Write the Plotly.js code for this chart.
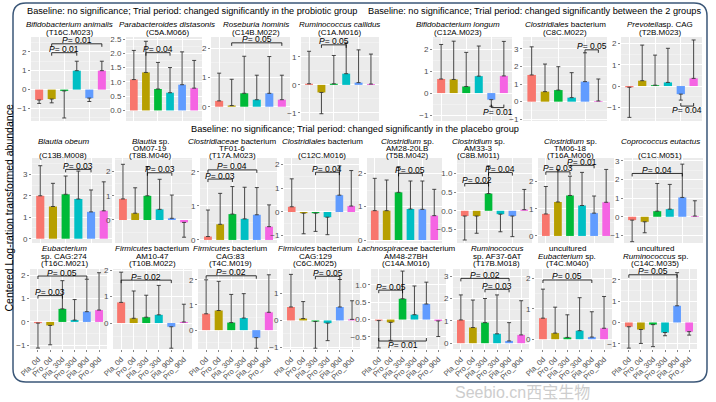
<!DOCTYPE html>
<html><head><meta charset="utf-8">
<script src="https://cdn.plot.ly/plotly-3.0.1.min.js"></script>
<style>html,body{margin:0;padding:0;background:#fff;}#chart{width:716px;height:402px;}</style>
</head><body><div id="chart"></div>
<script>
// ---------------- DATA ----------------
const categories = ["Pla_0d","Pro_0d","Pla_30d","Pro_30d","Pla_90d","Pro_90d"];

const boxTitles = [
  "Baseline: no significance; Trial period: changed significantly in the probiotic group",
  "Baseline: no significance; Trial period: changed significantly between the 2 groups",
  "Baseline: no significance; Trial period: changed significantly in the placebo group"
];
const yAxisTitle = "Centered Log-ration transformed abundance";

// Row 1 — probiotic group
const mean_T16C_M023 = [-0.55,-0.5,-0.07,1.0,-0.45,1.0];
const tip_T16C_M023  = [-0.73,-0.7,-1.5,1.5,-0.63,1.5];
const sig_T16C_M023  = [[1,3,"0.01"],[1,5,"0.01"]];
const mean_C5A_M066 = [1.08,1.33,0.75,0.62,0.9,0.78];
const tip_C5A_M066  = [2.1,2.42,1.68,1.5,2.05,1.75];
const sig_C5A_M066  = [[1,3,"0.04"]];
const mean_C14B_M022 = [0.2,0.04,0.46,0.24,0.46,0.24];
const tip_C14B_M022  = [1.15,0.94,1.73,1.08,1.72,1.08];
const sig_C14B_M022  = [[1,5,"0.05"]];
const mean_C1A_M016 = [0.04,-0.27,0.04,0.4,0.08,0.03];
const tip_C1A_M016  = [1.2,-1.03,1.05,1.5,1.25,1.1];
const sig_C1A_M016  = [[1,3,"0.05"]];
// Row 1 — between the 2 groups
const mean_C12A_M023 = [0.64,0.62,0.3,0.77,-0.3,0.78];
const tip_C12A_M023  = [2.21,2.36,1.85,2.14,-0.6,2.35];
const sig_C12A_M023  = [[4,5,"0.01"]];
const mean_C8C_M022 = [1.52,0.57,0.66,0.23,1.14,0.04];
const tip_C8C_M022  = [3.12,2.14,1.99,1.65,2.78,1.29];
const sig_C8C_M022  = [[4,5,"0.05"]];
const mean_T2B_M023 = [-0.06,0.25,0.04,0.17,-0.38,0.36];
const tip_T2B_M023  = [-1.47,1.92,1.45,1.77,-0.66,2.16];
const sig_T2B_M023  = [[4,5,"0.04"]];
// Rows 2-3 — placebo group
const mean_C13B_M008 = [2.0,1.5,2.07,1.85,1.25,1.3];
const tip_C13B_M008  = [3.4,2.58,2.92,3.15,2.27,2.65];
const sig_C13B_M008  = [[2,4,"0.03"]];
const mean_T8B_M046 = [0.87,0.28,1.0,0.44,0.07,-0.1];
const tip_T8B_M046  = [2.3,1.33,2.2,1.68,1.03,-0.71];
const sig_T8B_M046  = [[2,4,"0.03"]];
const mean_T17A_M023 = [0.1,0.46,0.76,0.62,0.74,0.39];
const tip_T17A_M023  = [0.88,1.37,1.57,1.55,1.54,1.03];
const sig_T17A_M023  = [[0,4,"0.04"],[0,2,"0.03"]];
const mean_C12C_M016 = [0.22,-0.05,-0.05,-0.22,0.71,0.25];
const tip_C12C_M016  = [1.4,-0.92,-0.82,-0.96,1.95,1.75];
const sig_C12C_M016  = [[2,4,"0.04"]];
const mean_T5B_M042 = [0.88,0.88,1.43,0.93,0.92,0.73];
const tip_T5B_M042  = [1.85,1.8,2.2,1.77,1.77,1.52];
const sig_T5B_M042  = [[2,4,"0.05"]];
const mean_C8B_M011 = [-0.14,-0.14,0.46,-0.09,-0.14,0.03];
const tip_C8B_M011  = [-0.78,-0.6,1.2,-0.56,-0.69,0.57];
const sig_C8B_M011  = [[0,2,"0.02"],[2,4,"0.04"]];
const mean_T16A_M006 = [0.81,1.25,1.49,1.12,0.84,1.24];
const tip_T16A_M006  = [1.82,2.45,2.2,2.34,1.47,2.45];
const sig_T16A_M006  = [[0,2,"0.03"],[2,4,"0.01"]];
const mean_C1C_M051 = [-0.18,-0.27,0.3,0.41,1.04,0.04];
const tip_C1C_M051  = [-1.34,-0.86,1.79,1.74,2.83,0.86];
const sig_C1C_M051  = [[0,4,"0.04"]];
const mean_T16C_M021 = [-0.05,-0.15,0.56,0.08,0.44,0.51];
const tip_T16C_M021  = [-1.12,-0.98,1.77,0.96,1.83,2.11];
const sig_T16C_M021  = [[0,4,"0.05"],[0,2,"0.03"]];
const mean_T10B_M022 = [0.78,0.18,0.22,0.31,-0.14,0.04];
const tip_T10B_M022  = [1.92,1.21,1.05,1.42,-0.95,0.71];
const sig_T10B_M022  = [[0,4,"0.02"]];
const mean_T4C_M019 = [0.65,0.78,0.3,0.48,-0.3,0.71];
const tip_T4C_M019  = [2.0,1.94,1.42,1.45,-0.72,2.2];
const sig_T4C_M019  = [[0,4,"0.02"]];
const mean_C6C_M025 = [0.5,0.07,-0.04,-0.1,0.5,0.04];
const tip_C6C_M025  = [1.71,0.7,-1.03,-0.75,1.52,0.73];
const sig_C6C_M025  = [[2,4,"0.05"]];
const mean_C14A_M016 = [-0.03,-0.08,0.6,0.14,0.45,-0.04];
const tip_C14A_M016  = [-0.82,-0.6,1.4,0.97,1.08,-0.49];
const sig_C14A_M016  = [[0,2,"0.05"],[0,4,"0.01"]];
const mean_T17B_M018 = [1.04,0.7,0.92,0.42,0.1,0.37];
const tip_T17B_M018  = [2.16,1.93,2.0,2.16,0.92,1.9];
const sig_T17B_M018  = [[0,4,"0.02"],[2,4,"0.03"]];
const mean_T4C_M040 = [0.69,0.2,0.06,0.28,0.07,0.36];
const tip_T4C_M040  = [1.64,1.05,0.8,1.36,0.9,1.4];
const sig_T4C_M040  = [[0,4,"0.05"]];
const mean_C14C_M035 = [-0.2,-0.33,-0.1,-0.47,0.78,-0.43];
const tip_C14C_M035  = [-1.2,-0.98,-1.13,-0.62,2.33,-0.59];
const sig_C14C_M035  = [[0,4,"0.05"]];

const titles = [
  ["<i>Bifidobacterium animalis</i>","(T16C.M023)"],
  ["<i>Parabacteroides distasonis</i>","(C5A.M066)"],
  ["<i>Roseburia hominis</i>","(C14B.M022)"],
  ["<i>Ruminococcus callidus</i>","(C1A.M016)"],
  ["<i>Bifidobacterium longum</i>","(C12A.M023)"],
  ["<i>Clostridiales</i> bacterium","(C8C.M022)"],
  ["<i>Prevotella</i>sp. CAG","(T2B.M023)"],
  ["<i>Blautia obeum</i>","","(C13B.M008)"],
  ["<i>Blautia</i> sp.","OM07-19","(T8B.M046)"],
  ["<i>Clostridiaceae</i> bacterium","TF01-6","(T17A.M023)"],
  ["<i>Clostridiales</i> bacterium","","(C12C.M016)"],
  ["<i>Clostridium</i> sp.","AM28-20LB","(T5B.M042)"],
  ["<i>Clostridium</i> sp.","AM33-3","(C8B.M011)"],
  ["<i>Clostridium</i> sp.","TM06-18","(T16A.M006)"],
  ["<i>Coprococcus eutactus</i>","","(C1C.M051)"],
  ["<i>Eubacterium</i>","sp. CAG:274","(T16C.M021)"],
  ["<i>Firmicutes</i> bacterium","AM10-47","(T10B.M022)"],
  ["<i>Firmicutes</i> bacterium","CAG:83","(T4C.M019)"],
  ["<i>Firmicutes</i> bacterium","CAG:129","(C6C.M025)"],
  ["<i>Lachnospiraceae</i> bacterium","AM48-27BH","(C14A.M016)"],
  ["<i>Ruminococcus</i>","sp. AF37-6AT","(T17B.M018)"],
  ["uncultured","<i>Eubacterium</i> sp.","(T4C.M040)"],
  ["uncultured","<i>Ruminococcus</i> sp.","(C14C.M035)"]
];
const watermark = "Seebio.cn西宝生物";

// ---------------- LAYOUT / STYLE ----------------
const COLORS = ["#F8766D","#B79F00","#00BA38","#00BFC4","#619CFF","#F564E3"];
const FONT = '"Liberation Sans", Arial, "Noto Sans CJK SC", sans-serif';
const W = 716, H = 402;
const ROW_Y = [[37,121],[158,243],[269,349]];
const TITLE_Y = [[24.3,32.7],[141.6,148.6,155.6],[248.6,256,263.4]];

const panels = [
  {m:mean_T16C_M023,t:tip_T16C_M023,s:sig_T16C_M023,row:0,dom:[31,110],yr:[-1.66,2.78],dt:1,by:[1.95,2.42],tx:69},
  {m:mean_C5A_M066,t:tip_C5A_M066,s:sig_C5A_M066,row:0,dom:[126,202],yr:[-0.37,2.57],dt:0.5,fmt:".1f",by:[2.02],tx:167},
  {m:mean_C14B_M022,t:tip_C14B_M022,s:sig_C14B_M022,row:0,dom:[211,290],yr:[-0.49,2.39],dt:1,by:[2.19],tx:256},
  {m:mean_C1A_M016,t:tip_C1A_M016,s:sig_C1A_M016,row:0,dom:[301,379],yr:[-1.29,1.71],dt:1,by:[1.43],tx:339},
  {m:mean_C12A_M023,t:tip_C12A_M023,s:sig_C12A_M023,row:0,dom:[433,512],yr:[-1.27,2.55],dt:1,by:[-0.66],tx:458},
  {m:mean_C8C_M022,t:tip_C8C_M022,s:sig_C8C_M022,row:0,dom:[523,607],yr:[-1.1,3.68],dt:1,by:[2.95],tx:565},
  {m:mean_T2B_M023,t:tip_T2B_M023,s:sig_T2B_M023,row:0,dom:[621,702],yr:[-1.64,2.3],dt:1,by:[-0.94],tx:660},
  {m:mean_C13B_M008,t:tip_C13B_M008,s:sig_C13B_M008,row:1,dom:[32,112],yr:[-0.2,3.76],dt:1,by:[3.23],tx:63},
  {m:mean_T8B_M046,t:tip_T8B_M046,s:sig_T8B_M046,row:1,dom:[115,192],yr:[-0.95,2.56],dt:1,by:[1.95],tx:150},
  {m:mean_T17A_M023,t:tip_T17A_M023,s:sig_T17A_M023,row:1,dom:[200,277],yr:[-0.09,2.41],dt:1,by:[2.06,1.79],tx:232},
  {m:mean_C12C_M016,t:tip_C12C_M016,s:sig_C12C_M016,row:1,dom:[284,359],yr:[-1.31,2.28],dt:1,by:[1.68],tx:322},
  {m:mean_T5B_M042,t:tip_T5B_M042,s:sig_T5B_M042,row:1,dom:[367,442],yr:[-0.09,2.46],dt:1,by:[2.0],tx:407},
  {m:mean_C8B_M011,t:tip_C8B_M011,s:sig_C8B_M011,row:1,dom:[457,532],yr:[-0.86,1.41],dt:0.5,fmt:".1f",by:[0.73,1.02],tx:478},
  {m:mean_T16A_M006,t:tip_T16A_M006,s:sig_T16A_M006,row:1,dom:[538,614],yr:[-0.26,2.87],dt:1,by:[2.36,2.6],tx:570},
  {m:mean_C1C_M051,t:tip_C1C_M051,s:sig_C1C_M051,row:1,dom:[624,703],yr:[-1.41,3.16],dt:1,by:[2.33],tx:660},
  {m:mean_T16C_M021,t:tip_T16C_M021,s:sig_T16C_M021,row:2,dom:[30,107],yr:[-1.16,2.27],dt:1,by:[1.97,1.13],tx:64},
  {m:mean_T10B_M022,t:tip_T10B_M022,s:sig_T10B_M022,row:2,dom:[113,192],yr:[-0.98,2.04],dt:1,by:[1.62],tx:152},
  {m:mean_T4C_M019,t:tip_T4C_M019,s:sig_T4C_M019,row:2,dom:[198,277],yr:[-0.75,2.43],dt:1,by:[2.16],tx:230},
  {m:mean_C6C_M025,t:tip_C6C_M025,s:sig_C6C_M025,row:2,dom:[283,360],yr:[-1.06,1.91],dt:1,by:[1.64],tx:315},
  {m:mean_C14A_M016,t:tip_C14A_M016,s:sig_C14A_M016,row:2,dom:[371,446],yr:[-0.85,1.46],dt:0.5,fmt:".1f",by:[0.85,-0.62],tx:406},
  {m:mean_T17B_M018,t:tip_T17B_M018,s:sig_T17B_M018,row:2,dom:[453,529],yr:[-0.26,3.32],dt:1,by:[2.9,2.41],tx:497},
  {m:mean_T4C_M040,t:tip_T4C_M040,s:sig_T4C_M040,row:2,dom:[535,612],yr:[-0.32,2.3],dt:1,by:[1.94],tx:567},
  {m:mean_C14C_M035,t:tip_C14C_M035,s:sig_C14C_M035,row:2,dom:[621,697],yr:[-1.24,2.5],dt:1,by:[2.23],tx:655}
];

const px = x => x / W, py = y => 1 - y / H;
const traces = [], shapes = [], annotations = [];
const layout = {
  width: W, height: H, margin: {l:0,r:0,t:0,b:0},
  paper_bgcolor: "#ffffff", plot_bgcolor: "#EBEBEB",
  showlegend: false, font: {family: FONT, color: "#000"},
  hovermode: false
};

panels.forEach((p, i) => {
  const n = i + 1;
  const xa = n === 1 ? "x" : "x" + n, ya = n === 1 ? "y" : "y" + n;
  const xk = n === 1 ? "xaxis" : "xaxis" + n, yk = n === 1 ? "yaxis" : "yaxis" + n;
  const ry = ROW_Y[p.row];
  const lastRow = p.row === 2;
  layout[xk] = {
    domain: [px(p.dom[0]), px(p.dom[1])], anchor: ya, type: "category",
    categoryorder: "array", categoryarray: categories, range: [-0.65, 5.65],
    showgrid: true, gridcolor: "#ffffff", gridwidth: 1, zeroline: false, showline: false,
    ticks: lastRow ? "outside" : "", ticklen: 2, tickcolor: "#333", tickwidth: 0.6,
    showticklabels: lastRow, tickangle: -45,
    tickfont: {size: 7.6, color: "#4d4d4d", family: FONT}, fixedrange: true
  };
  layout[yk] = {
    domain: [py(ry[1]), py(ry[0])], anchor: xa, range: p.yr,
    tickmode: "linear", tick0: 0, dtick: p.dt, tickformat: p.fmt || "d",
    showgrid: true, gridcolor: "#ffffff", gridwidth: 1,
    minor: {showgrid: true, gridcolor: "#f7f7f7", gridwidth: 0.5, dtick: p.dt / 2, tick0: 0},
    zeroline: false, showline: false, ticks: "outside", ticklen: 2,
    tickcolor: "#333", tickwidth: 0.6,
    tickfont: {size: 8, color: "#4d4d4d", family: FONT}, fixedrange: true
  };
  const plus = p.m.map((v, j) => p.t[j] > v ? p.t[j] - v : 0);
  const minus = p.m.map((v, j) => p.t[j] < v ? v - p.t[j] : 0);
  traces.push({
    type: "bar", x: categories, y: p.m, xaxis: xa, yaxis: ya, width: 0.64,
    marker: {color: COLORS, line: {width: 0}},
    error_y: {type: "data", symmetric: false, array: plus, arrayminus: minus,
              color: "#333333", thickness: 0.9, width: 2},
    hoverinfo: "skip"
  });
  // significance brackets
  const ppu = (ry[1] - ry[0]) / (p.yr[1] - p.yr[0]);
  const tk = 3 / ppu;
  p.s.forEach((s, k) => {
    const yv = p.by[k], dir = yv >= 0 ? 1 : -1;
    const a = s[0], b = s[1];
    const ln = {type: "line", xref: xa, yref: ya, line: {color: "#000", width: 0.8}};
    shapes.push(Object.assign({x0: a, x1: b, y0: yv, y1: yv}, ln));
    shapes.push(Object.assign({x0: a, x1: a, y0: yv, y1: yv - dir * tk}, ln));
    shapes.push(Object.assign({x0: b, x1: b, y0: yv, y1: yv - dir * tk}, ln));
    annotations.push({
      xref: xa, yref: ya, x: (a + b) / 2, y: yv, showarrow: false, borderpad: 0,
      text: "<i>P</i>= " + s[2], yanchor: dir > 0 ? "bottom" : "top",
      yshift: dir > 0 ? -2.5 : 2, font: {size: 8.5, color: "#000", family: FONT}
    });
  });
  // panel titles
  titles[i].forEach((line, k) => {
    if (!line) return;
    annotations.push({
      xref: "paper", yref: "paper", x: px(p.tx), y: py(TITLE_Y[p.row][k]),
      xanchor: "center", yanchor: "middle", showarrow: false, borderpad: 0,
      text: line, font: {size: 8, color: "#000", family: FONT}
    });
  });
});

// box titles
[[191.5, 11], [534.5, 11], [354.5, 129]].forEach((pos, k) => {
  annotations.push({xref: "paper", yref: "paper", x: px(pos[0]), y: py(pos[1]),
    xanchor: "center", yanchor: "middle", showarrow: false, text: boxTitles[k],
    font: {size: 9.2, color: "#000", family: FONT}});
});
// y axis title
annotations.push({xref: "paper", yref: "paper", x: px(8), y: py(208.5), xanchor: "center",
  yanchor: "middle", showarrow: false, textangle: -90, text: yAxisTitle,
  font: {size: 10.5, color: "#000", family: FONT}});
// watermark
annotations.push({xref: "paper", yref: "paper", x: px(522), y: py(392), xanchor: "center",
  yanchor: "middle", showarrow: false, text: watermark,
  font: {size: 16, color: "#cdcdcd", family: FONT}});

// rounded frame
(function(){
  const x0 = 13, y0 = 3, x1 = 707, y1 = 382, r = 13;
  const P = (x, y) => px(x).toFixed(5) + "," + py(y).toFixed(5);
  const d = "M" + P(x0 + r, y0) + " L" + P(x1 - r, y0) + " Q" + P(x1, y0) + " " + P(x1, y0 + r) +
    " L" + P(x1, y1 - r) + " Q" + P(x1, y1) + " " + P(x1 - r, y1) +
    " L" + P(x0 + r, y1) + " Q" + P(x0, y1) + " " + P(x0, y1 - r) +
    " L" + P(x0, y0 + r) + " Q" + P(x0, y0) + " " + P(x0 + r, y0) + " Z";
  shapes.push({type: "path", xref: "paper", yref: "paper", path: d,
    line: {color: "#3b5778", width: 1.5}, fillcolor: "rgba(0,0,0,0)", layer: "above"});
})();

layout.shapes = shapes;
layout.annotations = annotations;
Plotly.newPlot("chart", traces, layout, {staticPlot: true, displayModeBar: false});
</script></body></html>
